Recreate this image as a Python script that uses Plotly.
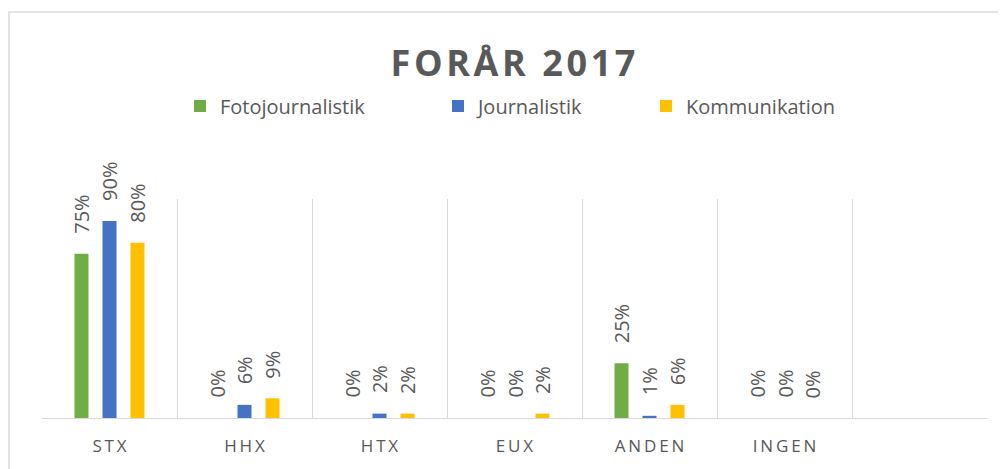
import plotly.graph_objects as go

CATEGORIES = ["STX", "HHX", "HTX", "EUX", "ANDEN", "INGEN"]
SERIES = ["Fotojournalistik", "Journalistik", "Kommunikation"]
FOTO = [75, 0, 0, 0, 25, 0]
JOUR = [90, 6, 2, 0, 1, 0]
KOMM = [80, 9, 2, 2, 6, 0]
COLORS = ["#70AD47", "#4472C4", "#FFC000"]
TITLE = "FORÅR 2017"

W, H = 1006, 469
OFF = 8  # page body margin offset
# desired window-pixel positions of plot area
PX_L, PX_R, PX_T, PX_B = 42, 987, 199, 418
L = PX_L - OFF
T = PX_T - OFF
R = W - (PX_R - OFF)
B = H - (PX_B - OFF)
PW = W - L - R
PH = H - T - B
GRAY = "#595959"
LINE = "#D9D9D9"
FONT = "Open Sans"


def spaced(s, sp="\u2009"):
    return sp.join(list(s))


def paper_x(px):
    return (px - OFF - L) / PW


def paper_y(py):
    return (H - B - (py - OFF)) / PH


values = [FOTO, JOUR, KOMM]
fig = go.Figure()
legend_px = [180, 438, 646]
for i, (name, vals, col) in enumerate(zip(SERIES, values, COLORS)):
    lg = "legend" if i == 0 else f"legend{i+1}"
    fig.add_trace(go.Bar(
        name=name, x=CATEGORIES, y=vals, marker=dict(color=col, line=dict(width=0)),
        legend=lg, hoverinfo="skip",
    ))

# data labels
step = PW / 7 * (1 - 0.378) / 3
for i, vals in enumerate(values):
    for c, v in zip(CATEGORIES, vals):
        fig.add_annotation(
            x=c, y=v, xref="x", yref="y", text=f"{v}%", showarrow=False,
            textangle=-90, xanchor="center", yanchor="bottom",
            xshift=(i - 1) * step, yshift=18,
            font=dict(family=FONT, size=20, color=GRAY),
        )

# outer chart border
fig.add_shape(type="rect", xref="paper", yref="paper",
              x0=paper_x(OFF + 1), x1=paper_x(W + 30),
              y0=paper_y(H + 30), y1=paper_y(12),
              line=dict(color=LINE, width=1.5), fillcolor="rgba(0,0,0,0)", layer="below")

legend_common = dict(orientation="h", yanchor="middle", xanchor="left",
                     y=paper_y(106), bgcolor="rgba(0,0,0,0)",
                     font=dict(family=FONT, size=20, color=GRAY), itemwidth=30)
layout_legends = {}
for i, px in enumerate(legend_px):
    key = "legend" if i == 0 else f"legend{i+1}"
    layout_legends[key] = dict(legend_common, x=paper_x(px))

fig.update_layout(
    width=W, height=H,
    margin=dict(l=L, r=R, t=T, b=B),
    paper_bgcolor="white", plot_bgcolor="white",
    barmode="group", bargap=0.378, bargroupgap=0.5,
    title=dict(text=spaced(TITLE, "\u200a"), x=(513 - OFF) / W, xanchor="center",
               y=1 - (63 - OFF) / H, yanchor="middle", yref="container",
               font=dict(family=FONT, size=36, color=GRAY, weight="bold")),
    showlegend=True,
    **layout_legends,
    xaxis=dict(
        type="category", categoryorder="array",
        categoryarray=CATEGORIES + [" "],
        tickvals=CATEGORIES, ticktext=[spaced(c) for c in CATEGORIES],
        range=[-0.5, 6.5], tickson="boundaries",
        showgrid=True, gridcolor=LINE, gridwidth=1,
        showline=True, linecolor=LINE, linewidth=1,
        ticks="", ticklabelstandoff=13,
        tickfont=dict(family=FONT, size=17, color=GRAY),
        fixedrange=True,
    ),
    yaxis=dict(range=[0, 100], visible=False, showgrid=False, zeroline=False, fixedrange=True),
)

fig.write_html("out.html")
